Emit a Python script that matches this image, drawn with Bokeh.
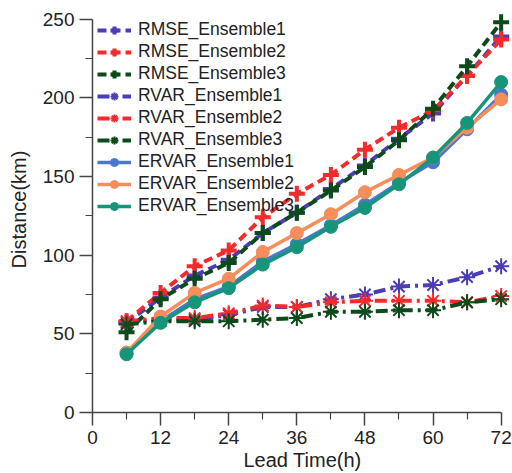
from bokeh.plotting import figure
from bokeh.models import Range1d, FixedTicker, Legend, LegendItem, ColumnDataSource
from bokeh.embed import file_html
from bokeh.resources import INLINE

lead = [6, 12, 18, 24, 30, 36, 42, 48, 54, 60, 66, 72]
rmse1 = [57, 73, 87, 97, 114, 127, 142, 157, 174, 190, 214, 239]
rmse2 = [58, 76, 93, 103, 124, 139, 151, 167, 181, 192, 214, 237]
rmse3 = [51, 72, 85, 95, 114, 127, 141, 156, 173, 193, 220, 248]
rvar1 = [57, 59, 59, 62, 67, 67, 72, 75, 80, 81, 86, 93]
rvar2 = [58, 60, 60, 63, 68, 67, 70, 71, 71, 71, 70, 74]
rvar3 = [56, 58, 58, 58, 59, 60, 64, 64, 65, 65, 70, 72]
ervar1 = [38, 58, 72, 80, 96, 107, 119, 132, 146, 159, 180, 202]
ervar2 = [38, 61, 76, 85, 102, 114, 126, 140, 151, 162, 181, 199]
ervar3 = [37, 57, 70, 79, 94, 105, 118, 130, 145, 162, 184, 210]

x_ticks = [0, 12, 24, 36, 48, 60, 72]
x_minor = [6, 18, 30, 42, 54, 66]
y_ticks = [0, 50, 100, 150, 200, 250]
y_minor = [25, 75, 125, 175, 225]

FONT = "Liberation Sans"

p = figure(width=512, height=473, output_backend="svg", toolbar_location=None,
           x_range=Range1d(0, 74), y_range=Range1d(0, 258),
           min_border_left=92, min_border_right=0, min_border_top=6, min_border_bottom=60)
p.xgrid.visible = False
p.ygrid.visible = False
p.outline_line_color = None
p.background_fill_color = "white"
p.border_fill_color = "white"

items = []
series = [
    ("RMSE_Ensemble1", rmse1, "#4B3DB5", "rmse"),
    ("RMSE_Ensemble2", rmse2, "#F52A2A", "rmse"),
    ("RMSE_Ensemble3", rmse3, "#0D4A1A", "rmse"),
    ("RVAR_Ensemble1", rvar1, "#4B3DB5", "rvar"),
    ("RVAR_Ensemble2", rvar2, "#F52A2A", "rvar"),
    ("RVAR_Ensemble3", rvar3, "#0D4A1A", "rvar"),
    ("ERVAR_Ensemble1", ervar1, "#4A78CF", "ervar"),
    ("ERVAR_Ensemble2", ervar2, "#F58E5A", "ervar"),
    ("ERVAR_Ensemble3", ervar3, "#17957A", "ervar"),
]
for name, vals, col, kind in series:
    src = ColumnDataSource(dict(x=lead, y=vals))
    if kind == "rmse":
        r = p.line("x", "y", source=src, line_color=col, line_width=4, line_dash="9 5")
        s = p.scatter("x", "y", source=src, marker="cross", size=16, line_color=col, line_width=4)
    elif kind == "rvar":
        r = p.line("x", "y", source=src, line_color=col, line_width=4, line_dash="12 5 3 5")
        s = p.scatter("x", "y", source=src, marker="asterisk", size=16, line_color=col, line_width=2)
    else:
        r = p.line("x", "y", source=src, line_color=col, line_width=3.5)
        s = p.scatter("x", "y", source=src, marker="circle", size=13, fill_color=col, line_color=col)
    items.append(LegendItem(label=name, renderers=[r, s]))

legend = Legend(items=items, location=(5, 196), border_line_color=None,
                background_fill_alpha=0, label_text_font=FONT, label_text_font_size="17.5px",
                label_text_color="#222222", glyph_width=34, glyph_height=20, label_height=20,
                spacing=1, padding=0, margin=0, label_standoff=7)
p.add_layout(legend)

for ax in (p.xaxis[0], p.yaxis[0]):
    ax.major_tick_in = 0
    ax.major_tick_out = 13
    ax.minor_tick_in = 0
    ax.minor_tick_out = 7
    ax.axis_line_width = 1.5
    ax.axis_line_color = "#444444"
    ax.major_tick_line_color = "#444444"
    ax.minor_tick_line_color = "#444444"
    ax.major_tick_line_width = 1.5
    ax.minor_tick_line_width = 1.2
    ax.major_label_text_font = FONT
    ax.major_label_text_font_size = "19px"
    ax.major_label_text_color = "#222222"
    ax.axis_label_text_font = FONT
    ax.axis_label_text_font_size = "20px"
    ax.axis_label_text_font_style = "normal"
    ax.axis_label_text_color = "#222222"

p.xaxis.ticker = FixedTicker(ticks=x_ticks, minor_ticks=x_minor)
p.xaxis.bounds = (0, 72)
p.xaxis.axis_label = "Lead Time(h)"
p.xaxis.major_label_standoff = 5
p.xaxis.axis_label_standoff = 2

p.yaxis.ticker = FixedTicker(ticks=y_ticks, minor_ticks=y_minor)
p.yaxis.bounds = (0, 250)
p.yaxis.axis_label = "Distance(km)"
p.yaxis.major_label_standoff = 5
p.yaxis.axis_label_standoff = 10

open("out.html", "w").write(file_html(p, INLINE))
